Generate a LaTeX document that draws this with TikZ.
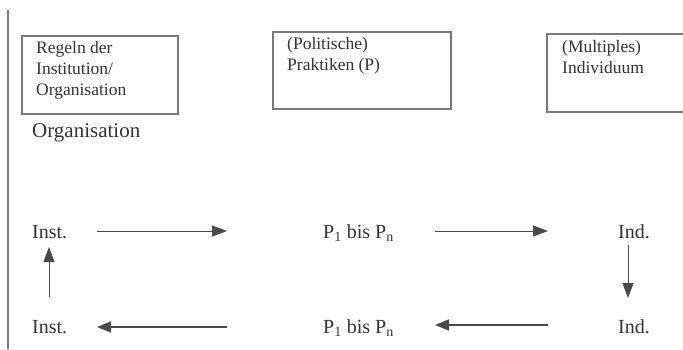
\documentclass[tikz,border=0pt]{standalone}
\usepackage{fontspec}
\setmainfont{Liberation Serif}
\usetikzlibrary{arrows.meta}
\definecolor{ink}{HTML}{333333}
\definecolor{frame}{HTML}{7A7A7A}
\definecolor{wire}{HTML}{4A4A4A}
\begin{document}
\begin{tikzpicture}[x=1pt,y=-1pt,
  boxtext/.style={font=\fontsize{17.5}{21}\selectfont, text=ink, align=left, anchor=north west, inner sep=0pt},
  rowlabel/.style={font=\fontsize{20}{24}\selectfont, text=ink, inner sep=0pt, anchor=base west},
  frameline/.style={draw=frame, line width=1.1pt},
  flow/.style={draw=wire, line width=0.9pt, -{Triangle[length=15pt,width=11pt]}},
  flowthick/.style={draw=wire, line width=1.6pt, -{Triangle[length=14pt,width=11pt]}}]
\useasboundingbox (0,0) rectangle (683,349);
\clip (0,0) rectangle (683,349);

% margin rule on the left
\draw[draw=frame, line width=1.4pt] (8,10) -- (8,349);

% the three header boxes
\draw[frameline] (22,36) rectangle (178,114);
\node[boxtext] (regeln) at (36,41) {Regeln der\\Institution/\\Organisation};
\node[font=\fontsize{21}{25}\selectfont, text=ink, inner sep=0pt, anchor=base west] (orga) at (32,137) {Organisation};

\draw[frameline] (273,32) rectangle (451,109);
\node[boxtext] (prakt) at (287,37) {(Politische)\\Praktiken (P)};

\draw[frameline] (547,34) rectangle (700,112);
\node[boxtext] (indiv) at (562,40) {(Multiples)\\Individuum};

% cycle labels
\node[rowlabel] (inst1) at (32,238) {Inst.};
\node[rowlabel] (p1) at (323,238) {P\textsubscript{1} bis P\textsubscript{n}};
\node[rowlabel] (ind1) at (618,238) {Ind.};
\node[rowlabel] (inst2) at (32,333) {Inst.};
\node[rowlabel] (p2) at (323,333) {P\textsubscript{1} bis P\textsubscript{n}};
\node[rowlabel] (ind2) at (618,333) {Ind.};

% end points of the cycle arrows
\coordinate (i1r) at (97,231);   \coordinate (p1l) at (227,231);
\coordinate (p1r) at (435,231);  \coordinate (d1l) at (548,231);
\coordinate (d1b) at (628,245);  \coordinate (d2t) at (628,298);
\coordinate (d2l) at (548,325);  \coordinate (p2r) at (435,325);
\coordinate (p2l) at (227,327);  \coordinate (i2r) at (97,327);
\coordinate (i2t) at (49,297);   \coordinate (i1b) at (49,247);

% cycle arrows
\draw[flow] (i1r) -- (p1l);
\draw[flow] (p1r) -- (d1l);
\draw[flow] (d1b) -- (d2t);
\draw[flowthick] (d2l) -- (p2r);
\draw[flowthick] (p2l) -- (i2r);
\draw[flow] (i2t) -- (i1b);
\end{tikzpicture}
\end{document}
